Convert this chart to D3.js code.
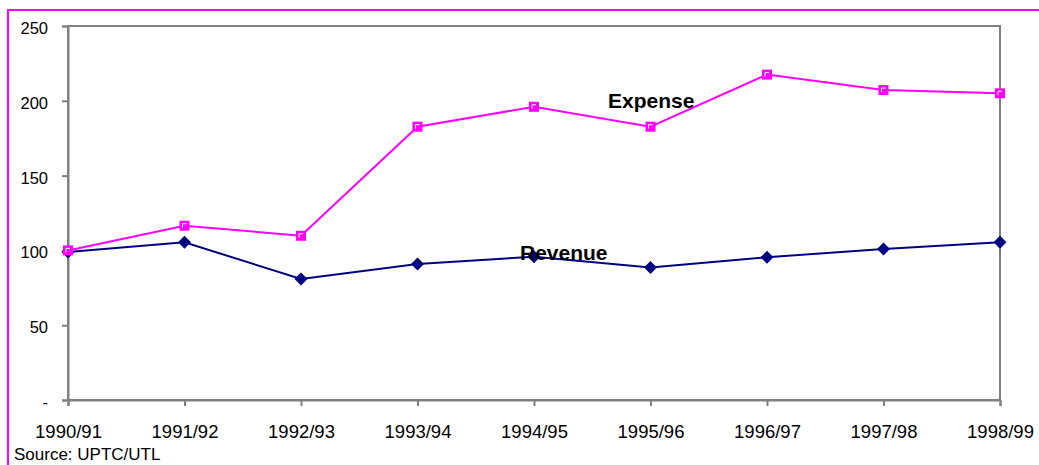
<!DOCTYPE html>
<html>
<head>
<meta charset="utf-8">
<script src="https://cdn.jsdelivr.net/npm/d3@7"></script>
<style>
  body { margin: 0; background: #fff; }
  text { font-family: "Liberation Sans", Arial, sans-serif; }
</style>
</head>
<body>
<div id="chart"></div>
<script>
// données
const years = ["1990/91", "1991/92", "1992/93", "1993/94", "1994/95", "1995/96", "1996/97", "1997/98", "1998/99"];
const expense = [100, 116.5, 109.8, 182.7, 196, 182.7, 217.5, 207.2, 205];
const revenue = [99, 105.4, 80.9, 90.9, 95.8, 88.5, 95.4, 101, 105.4];
const yTicks = [0, 50, 100, 150, 200, 250];

const width = 1039, height = 465;
const margin = { top: 26, right: 39, bottom: 65, left: 68 };

const svg = d3.select("#chart").append("svg")
    .attr("width", width)
    .attr("height", height);

// cadre magenta
svg.append("rect")
    .attr("x", 8).attr("y", 10)
    .attr("width", width + 20).attr("height", height + 20)
    .attr("fill", "none")
    .attr("stroke", "#ff00ff")
    .attr("stroke-width", 2);

const x = d3.scalePoint()
    .domain(years)
    .range([margin.left, width - margin.right]);

const y = d3.scaleLinear()
    .domain([0, 250])
    .range([height - margin.bottom, margin.top]);

// zone du graphique
svg.append("rect")
    .attr("x", margin.left).attr("y", margin.top)
    .attr("width", width - margin.right - margin.left)
    .attr("height", height - margin.bottom - margin.top)
    .attr("fill", "none")
    .attr("stroke", "#808080")
    .attr("stroke-width", 2);

// axes
const xAxis = svg.append("g")
    .attr("transform", `translate(0,${height - margin.bottom})`)
    .call(d3.axisBottom(x).tickSize(6).tickPadding(19));
const yAxis = svg.append("g")
    .attr("transform", `translate(${margin.left},0)`)
    .call(d3.axisLeft(y).tickValues(yTicks).tickSize(6).tickPadding(14)
        .tickFormat(d => d === 0 ? "-" : d));

[xAxis, yAxis].forEach(g => {
    g.select(".domain").attr("stroke", "#808080").attr("stroke-width", 2);
    g.selectAll(".tick line").attr("stroke", "#808080").attr("stroke-width", 2);
    g.selectAll("text").attr("fill", "#000")
        .attr("font-family", "Liberation Sans, Arial, sans-serif");
});
xAxis.selectAll("text").attr("font-size", "18.5px");
yAxis.selectAll("text").attr("font-size", "16.5px").attr("dy", "0.45em");

const line = d3.line()
    .x((d, i) => x(years[i]))
    .y(d => y(d));

// Revenue
svg.append("path")
    .datum(revenue)
    .attr("d", line)
    .attr("fill", "none")
    .attr("stroke", "#000080")
    .attr("stroke-width", 2);

svg.selectAll(".rev")
    .data(revenue)
    .enter().append("path")
    .attr("class", "rev")
    .attr("transform", (d, i) => `translate(${x(years[i])},${y(d)})`)
    .attr("d", "M0,-6.5L6.5,0L0,6.5L-6.5,0Z")
    .attr("fill", "#000080");

// Expense
svg.append("path")
    .datum(expense)
    .attr("d", line)
    .attr("fill", "none")
    .attr("stroke", "#ff00ff")
    .attr("stroke-width", 2);

const exp = svg.selectAll(".exp")
    .data(expense)
    .enter().append("g")
    .attr("class", "exp")
    .attr("transform", (d, i) => `translate(${x(years[i])},${y(d)})`);
exp.append("rect")
    .attr("x", -5).attr("y", -5).attr("width", 10).attr("height", 10)
    .attr("fill", "#ff00ff");
exp.append("path")
    .attr("d", "M-2,2V-2H2")
    .attr("fill", "none")
    .attr("stroke", "#fff")
    .attr("stroke-width", 1);

// étiquettes
svg.append("text")
    .attr("x", 608).attr("y", 108)
    .attr("font-size", "21px").attr("font-weight", "bold")
    .text("Expense");
svg.append("text")
    .attr("x", 520).attr("y", 260)
    .attr("font-size", "21px").attr("font-weight", "bold")
    .text("Revenue");

svg.append("text")
    .attr("x", 14).attr("y", 460)
    .attr("font-size", "17px")
    .text("Source: UPTC/UTL");
</script>
</body>
</html>
